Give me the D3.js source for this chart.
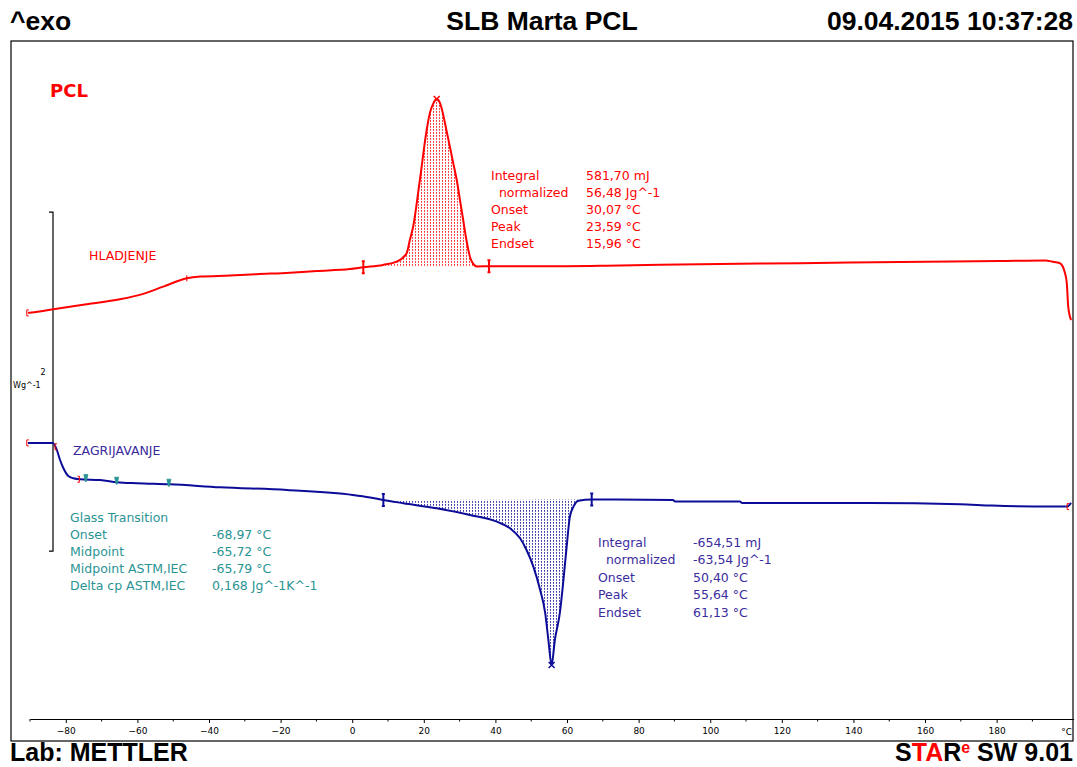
<!DOCTYPE html>
<html><head><meta charset="utf-8">
<script src="https://cdn.jsdelivr.net/npm/d3@7"></script>
<style>
body{margin:0;background:#fff;}
svg{display:block;}
</style></head><body>
<svg id="chart" width="1077" height="767"></svg>
<script>
// ---------- DATA ----------
const headerLeft = "^exo";
const headerTitle = "SLB Marta PCL";
const headerDate = "09.04.2015 10:37:28";
const footerLab = "Lab: METTLER";
const sampleName = "PCL";
const coolLabel = "HLADJENJE";
const heatLabel = "ZAGRIJAVANJE";
const yUnitValue = "2";
const yUnit = "Wg^-1";
const xUnit = "°C";
const xTicks = [-80,-60,-40,-20,0,20,40,60,80,100,120,140,160,180];
const xMinorTicks = [-90,-70,-50,-30,-10,10,30,50,70,90,110,130,150,170,190];

// Cooling curve (HLADJENJE): temperature (°C), heat flow (W/g, offset)
const coolT = [-90.6,-89.5,-83.5,-74.2,-64.9,-58.4,-52.8,-46.2,-42.5,-34.1,-26.7,-17.4,-9.9,-0.6,3.1,8.6,12.4,15.2,16.1,17.0,18.9,20.8,21.7,22.6,23.6,24.5,25.3,26.3,27.3,28.2,29.2,30.1,31.0,31.9,32.9,33.8,34.8,38.2,52.4,74.8,97.1,125.0,153.0,180.9,193.7,195.4,197.7,199.1,199.6,200.0,200.8];
const coolW = [0.496,0.498,0.518,0.547,0.576,0.608,0.651,0.700,0.710,0.716,0.724,0.733,0.743,0.755,0.765,0.779,0.798,0.848,0.926,1.003,1.280,1.575,1.676,1.729,1.758,1.735,1.676,1.575,1.475,1.381,1.280,1.162,1.044,0.926,0.826,0.785,0.770,0.771,0.771,0.776,0.783,0.789,0.796,0.802,0.805,0.799,0.789,0.730,0.671,0.533,0.454];

// Heating curve (ZAGRIJAVANJE)
const heatT = [-90.6,-83.6,-82.5,-81.6,-80.7,-79.3,-77.9,-76.0,-70.4,-65.7,-60.1,-50.9,-36.9,-18.2,0.2,5.0,8.7,14.3,23.6,32.9,40.4,44.1,46.9,48.7,50.6,52.5,53.9,54.8,55.7,56.6,58.0,59.0,59.9,60.8,61.8,63.2,66.9,89.6,90.2,108.3,108.9,144.6,169.8,178.7,195.8,199.7,200.8];
const heatW = [-0.271,-0.271,-0.313,-0.372,-0.419,-0.466,-0.480,-0.486,-0.490,-0.503,-0.509,-0.515,-0.533,-0.549,-0.578,-0.593,-0.608,-0.627,-0.657,-0.696,-0.736,-0.775,-0.834,-0.903,-1.001,-1.139,-1.274,-1.434,-1.581,-1.434,-1.274,-1.080,-0.883,-0.706,-0.647,-0.612,-0.605,-0.608,-0.617,-0.617,-0.625,-0.625,-0.633,-0.641,-0.647,-0.647,-0.625];

// Peak integration limits and peaks
const coolLimits = [3.1, 38.2];
const coolPeak = 23.6;
const heatLimits = [8.7, 66.9];
const heatPeak = 55.7;

// Glass transition markers on the heating curve
const gtRedMarks = [-83.0];
const gtRedEnd = [-76.2];
const gtTealMarks = [-74.4, -65.8, -51.2];
const coolSmallMark = [-46.2];

// Result tables
const coolResLabels = ["Integral","  normalized","Onset","Peak","Endset"];
const coolResValues = ["581,70 mJ","56,48 Jg^-1","30,07 °C","23,59 °C","15,96 °C"];
const heatResLabels = ["Integral","  normalized","Onset","Peak","Endset"];
const heatResValues = ["-654,51 mJ","-63,54 Jg^-1","50,40 °C","55,64 °C","61,13 °C"];
const gtResLabels = ["Glass Transition","Onset","Midpoint","Midpoint ASTM,IEC","Delta cp ASTM,IEC"];
const gtResValues = ["","-68,97 °C","-65,72 °C","-65,79 °C","0,168 Jg^-1K^-1"];

// ---------- CHART ----------
const frame = {left: 11, top: 41, right: 1073, bottom: 741};
const axisY = 719;
const svg = d3.select("#chart");

const x = d3.scaleLinear().domain([-90, 201.5]).range([30, 1073.6]);
const y = d3.scaleLinear().domain([-1.9, 2.1]).range([axisY, frame.top]);

const RED = "#ff0000", BLUE = "#0c0c98", BLUETXT = "#3a2c9e", TEAL = "#2a9494";
const annFont = "'DejaVu Sans', Verdana, sans-serif";

// hatch patterns
const defs = svg.append("defs");
function hatch(id, color) {
  const p = defs.append("pattern").attr("id", id).attr("patternUnits","userSpaceOnUse")
    .attr("width", 3).attr("height", 3);
  p.append("rect").attr("x",1).attr("y",0).attr("width",1).attr("height",1.8).attr("fill",color).attr("opacity",0.8);
}
hatch("hatchRed", RED);
hatch("hatchBlue", BLUE);

// header / footer
const hdr = svg.append("g").style("font-family","'Liberation Sans', Arial, sans-serif")
  .style("font-weight","bold").style("font-size","26.5px").attr("fill","#000");
hdr.append("text").attr("x",10).attr("y",30).text(headerLeft);
hdr.append("text").attr("x",542).attr("y",30).attr("text-anchor","middle").text(headerTitle);
hdr.append("text").attr("x",1073).attr("y",30).attr("text-anchor","end").text(headerDate);
const ftr = svg.append("g").style("font-family","'Liberation Sans', Arial, sans-serif")
  .style("font-weight","bold").style("font-size","25px").attr("fill","#000");
ftr.append("text").attr("x",10).attr("y",761).text(footerLab);
const st = ftr.append("text").attr("x",1073).attr("y",761).attr("text-anchor","end");
st.append("tspan").text("S");
st.append("tspan").attr("fill",RED).text("TA");
st.append("tspan").text("R");
st.append("tspan").attr("fill",RED).attr("dy",-8).style("font-size","16px").text("e");
st.append("tspan").attr("dy",8).text(" SW 9.01");

// frame
svg.append("rect").attr("x",frame.left).attr("y",frame.top)
  .attr("width",frame.right-frame.left).attr("height",frame.bottom-frame.top)
  .attr("fill","none").attr("stroke","#000").attr("stroke-width",1.2);

// x axis
const ax = svg.append("g").attr("transform",`translate(0,${axisY})`)
  .call(d3.axisBottom(x).tickValues(xTicks).tickSize(4).tickSizeOuter(0).tickPadding(5)
     .tickFormat(d3.format("d")));
ax.select(".domain").attr("stroke","#000").attr("stroke-width",1.2);
ax.selectAll(".tick line").attr("stroke","#000");
ax.selectAll(".tick text").style("font-family",annFont).style("font-size","9px").attr("fill","#000");
ax.selectAll(".minor").data(xMinorTicks).enter().append("line").attr("class","minor")
  .attr("x1",d=>x(d)).attr("x2",d=>x(d)).attr("y1",0).attr("y2",2.5).attr("stroke","#000");
ax.append("text").attr("x",1072).attr("y",16).attr("text-anchor","end")
  .style("font-family",annFont).style("font-size","9px").attr("fill","#000").text(xUnit);

// scale bracket (2 W/g)
const sb0 = y(-0.91), sb1 = y(1.09), sbx = 53;
svg.append("path").attr("d",`M${sbx-4},${sb1}H${sbx}V${sb0}H${sbx-4}`)
  .attr("fill","none").attr("stroke","#000").attr("stroke-width",1.2);
svg.append("text").attr("x",43).attr("y",375).attr("text-anchor","middle")
  .style("font-family",annFont).style("font-size","8px").text(yUnitValue);
svg.append("text").attr("x",13).attr("y",388)
  .style("font-family",annFont).style("font-size","8px").text(yUnit);

// helpers
function series(T, Wv){ return T.map((t,i)=>({t, w: Wv[i]})); }
function interp(T, Wv, t){
  for (let i=0;i<T.length-1;i++) if (t>=T[i] && t<=T[i+1]) {
    const f=(t-T[i])/(T[i+1]-T[i]); return Wv[i]+f*(Wv[i+1]-Wv[i]); }
  return Wv[Wv.length-1];
}
const line = d3.line().x(d=>x(d.t)).y(d=>y(d.w)).curve(d3.curveMonotoneX);

function peakFill(T, Wv, lim, pat){
  const a = lim[0], b = lim[1];
  const wa = interp(T,Wv,a), wb = interp(T,Wv,b);
  const pts = [{t:a,w:wa}].concat(series(T,Wv).filter(d=>d.t>a && d.t<b)).concat([{t:b,w:wb}]);
  const base = t => wa + (t-a)/(b-a)*(wb-wa);
  svg.append("path").datum(pts)
    .attr("d", d3.area().x(d=>x(d.t)).y0(d=>y(base(d.t))).y1(d=>y(d.w)).curve(d3.curveMonotoneX))
    .attr("fill",`url(#${pat})`);
  return [wa, wb];
}
const coolLimW = peakFill(coolT, coolW, coolLimits, "hatchRed");
const heatLimW = peakFill(heatT, heatW, heatLimits, "hatchBlue");

// curves
svg.append("path").datum(series(coolT,coolW)).attr("d",line)
  .attr("fill","none").attr("stroke",RED).attr("stroke-width",2);
svg.append("path").datum(series(heatT,heatW)).attr("d",line)
  .attr("fill","none").attr("stroke",BLUE).attr("stroke-width",2);

// limit markers (I-shaped)
function limitMark(t, w, color){
  const px = x(t), py = y(w);
  svg.append("path").attr("d",`M${px-1.5},${py-6}H${px+1.5}M${px},${py-6}V${py+6}M${px-1.5},${py+6}H${px+1.5}`)
    .attr("stroke",color).attr("stroke-width",2).attr("fill","none");
}
coolLimits.forEach((t,i)=>limitMark(t, coolLimW[i], RED));
heatLimits.forEach((t,i)=>limitMark(t, heatLimW[i], BLUE));

// peak crosses
function cross(t, w, color){
  const px=x(t), py=y(w);
  svg.append("path").attr("d",`M${px-3},${py-3}L${px+3},${py+3}M${px-3},${py+3}L${px+3},${py-3}`)
    .attr("stroke",color).attr("stroke-width",1.5);
}
cross(coolPeak, interp(coolT,coolW,coolPeak), RED);
cross(heatPeak, interp(heatT,heatW,heatPeak), BLUE);

// brackets at curve starts/ends (red)
function openBr(t, w){
  const px=x(t), py=y(w);
  svg.append("path").attr("d",`M${px+2},${py-3}H${px}V${py+3}H${px+2}`)
    .attr("stroke",RED).attr("fill","none").attr("stroke-width",1);
}
function closeBr(t, w){
  const px=x(t), py=y(w);
  svg.append("path").attr("d",`M${px-2},${py-3}H${px}V${py+3}H${px-2}`)
    .attr("stroke",RED).attr("fill","none").attr("stroke-width",1);
}
openBr(coolT[0]-0.3, coolW[0]);
openBr(heatT[0]-0.3, heatW[0]);
openBr(199.7, interp(heatT,heatW,199.7));
gtRedMarks.forEach(t=>openBr(t, interp(heatT,heatW,t)));
gtRedEnd.forEach(t=>closeBr(t, interp(heatT,heatW,t)));
gtTealMarks.forEach(t=>{
  const px=x(t), py=y(interp(heatT,heatW,t));
  svg.append("path").attr("d",`M${px-2},${py-5}H${px+2}L${px+0.5},${py+2}H${px-0.5}Z`)
    .attr("fill",TEAL).attr("stroke",TEAL).attr("stroke-width",0.8);
});
coolSmallMark.forEach(t=>{
  const px=x(t), py=y(interp(coolT,coolW,t));
  svg.append("line").attr("x1",px).attr("x2",px).attr("y1",py-3).attr("y2",py+3)
    .attr("stroke",RED).attr("stroke-width",1);
});

// labels
svg.append("text").attr("x",50).attr("y",97).attr("fill",RED)
  .style("font-family",annFont).style("font-weight","bold").style("font-size","18px").text(sampleName);
svg.append("text").attr("x",89).attr("y",260).attr("fill",RED)
  .style("font-family",annFont).style("font-size","12.5px").text(coolLabel);
svg.append("text").attr("x",73).attr("y",455).attr("fill",BLUETXT)
  .style("font-family",annFont).style("font-size","12.5px").text(heatLabel);

function table(x0, x1, y0, dyStep, labels, values, color){
  const g = svg.append("g").style("font-family",annFont).style("font-size","12.5px")
    .attr("fill",color).style("white-space","pre");
  labels.forEach((l,i)=>{
    g.append("text").attr("x",x0).attr("y",y0+i*dyStep).attr("dy","0.35em")
      .attr("xml:space","preserve").text(l);
    g.append("text").attr("x",x1).attr("y",y0+i*dyStep).attr("dy","0.35em").text(values[i]);
  });
}
table(491, 586, 175.5, 17.1, coolResLabels, coolResValues, RED);
table(598, 693, 542.7, 17.4, heatResLabels, heatResValues, BLUETXT);
table(70, 212, 517.7, 17.1, gtResLabels, gtResValues, TEAL);
</script>
</body></html>
